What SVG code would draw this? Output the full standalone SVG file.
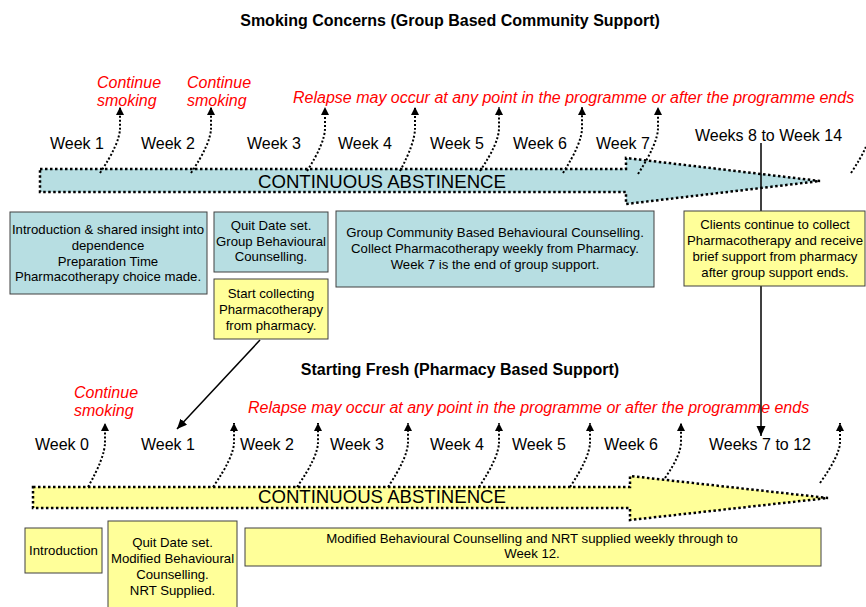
<svg xmlns="http://www.w3.org/2000/svg" width="866" height="607" viewBox="0 0 866 607">
<style>
text{font-family:"Liberation Sans",Arial,sans-serif;fill:#000}
.title{font-size:16px;font-weight:bold;text-anchor:middle}
.wk{font-size:16px}
.red{font-size:16px;font-style:italic;fill:#ff0000}
.ca{font-size:18.6px}
.bx{font-size:13.2px;text-anchor:middle}
.blue{fill:#b7dee2;stroke:#404040;stroke-width:1}
.yel{fill:#ffff99;stroke:#404040;stroke-width:1}
.big{stroke:#000;stroke-width:2.5;stroke-dasharray:2.5 2.5}
.dot{fill:none;stroke:#000;stroke-width:2;stroke-dasharray:2 2;marker-end:url(#ah)}
.solid{fill:none;stroke:#000;stroke-width:1.5}
</style>
<defs>
<marker id="ah" markerUnits="userSpaceOnUse" markerWidth="9" markerHeight="9" refX="8" refY="4" orient="auto"><path d="M0,0 L8,4 L0,8 z" fill="#000"/></marker>
<marker id="ah2" markerUnits="userSpaceOnUse" markerWidth="11" markerHeight="10" refX="10" refY="4.5" orient="auto"><path d="M0,0 L10,4.5 L0,9 z" fill="#000"/></marker>
</defs>
<rect width="866" height="607" fill="#fff"/>

<g id="titles">
<text class="title" x="450" y="26">Smoking Concerns (Group Based Community Support)</text>
<text class="title" x="460" y="375">Starting Fresh (Pharmacy Based Support)</text>
</g>

<g id="arrow-top">
<polygon class="big" fill="#b7dee2" points="40,169 626,169 626,158 820,181 626,204 626,192 40,192"/>
<text class="ca" x="258" y="188">CONTINUOUS ABSTINENCE</text>
</g>
<g id="arrow-bottom">
<polygon class="big" fill="#ffff99" points="33,487 630,487 630,476 828,498 630,520 630,508 33,508"/>
<text class="ca" x="258" y="503">CONTINUOUS ABSTINENCE</text>
</g>

<g id="labels-top">
<text class="red" x="97" y="88">Continue</text>
<text class="red" x="97" y="106">smoking</text>
<text class="red" x="187" y="88">Continue</text>
<text class="red" x="187" y="106">smoking</text>
<text class="red" x="293" y="103">Relapse may occur at any point in the programme or after the programme ends</text>
<text class="wk" x="50" y="149">Week 1</text>
<text class="wk" x="141" y="149">Week 2</text>
<text class="wk" x="247" y="149">Week 3</text>
<text class="wk" x="338" y="149">Week 4</text>
<text class="wk" x="430" y="149">Week 5</text>
<text class="wk" x="513" y="149">Week 6</text>
<text class="wk" x="596" y="149">Week 7</text>
<text class="wk" x="695" y="141">Weeks 8 to Week 14</text>
</g>

<g id="labels-bottom">
<text class="red" x="74" y="398">Continue</text>
<text class="red" x="74" y="416">smoking</text>
<text class="red" x="248" y="413">Relapse may occur at any point in the programme or after the programme ends</text>
<text class="wk" x="35" y="450">Week 0</text>
<text class="wk" x="141" y="450">Week 1</text>
<text class="wk" x="240" y="450">Week 2</text>
<text class="wk" x="330" y="450">Week 3</text>
<text class="wk" x="430" y="450">Week 4</text>
<text class="wk" x="512" y="450">Week 5</text>
<text class="wk" x="604" y="450">Week 6</text>
<text class="wk" x="709" y="450">Weeks 7 to 12</text>
</g>

<g id="connectors">
<path class="dot" d="M100,173 Q120,143 120,128 L120,107"/>
<path class="dot" d="M191,173 Q211,143 211,128 L211,107"/>
<path class="dot" d="M307,171 Q325,143 325,128 L325,107"/>
<path class="dot" d="M400,171 Q415,143 415,128 L415,107"/>
<path class="dot" d="M480,171 Q499,143 499,128 L499,107"/>
<path class="dot" d="M563,173 Q582,143 582,128 L582,107"/>
<path class="dot" d="M638,174 Q658,143 658,128 L658,107"/>
<path class="dot" d="M851,173 Q871,143 871,128 L871,107"/>

<path class="dot" d="M88,487 Q105,457 105,442 L105,423"/>
<path class="dot" d="M213,487 Q234,457 234,442 L234,423"/>
<path class="dot" d="M297,487 Q318,457 318,442 L318,423"/>
<path class="dot" d="M388,487 Q408,457 408,442 L408,423"/>
<path class="dot" d="M479,487 Q499,457 499,442 L499,423"/>
<path class="dot" d="M570,487 Q590,457 590,442 L590,423"/>
<path class="dot" d="M665,478 Q681,455 681,442 L681,423"/>
<path class="dot" d="M820,483 Q840,455 840,442 L840,423"/>

<line class="solid" x1="761" y1="143" x2="761" y2="436" marker-end="url(#ah2)"/>
<line class="solid" x1="260" y1="340" x2="177" y2="429" marker-end="url(#ah2)"/>
</g>

<g id="box-intro-top">
<rect class="blue" x="10" y="212" width="197" height="82"/>
<text class="bx" x="108" y="234">Introduction &amp; shared insight into</text>
<text class="bx" x="108" y="250">dependence</text>
<text class="bx" x="108" y="265.5">Preparation Time</text>
<text class="bx" x="108" y="281">Pharmacotherapy choice made.</text>
</g>
<g id="box-quit-top">
<rect class="blue" x="214" y="212" width="114" height="60"/>
<text class="bx" x="271" y="230">Quit Date set.</text>
<text class="bx" x="271" y="245.5">Group Behavioural</text>
<text class="bx" x="271" y="261">Counselling.</text>
</g>
<g id="box-start-collecting">
<rect class="yel" x="214" y="279" width="114" height="60"/>
<text class="bx" x="271" y="298">Start collecting</text>
<text class="bx" x="271" y="314">Pharmacotherapy</text>
<text class="bx" x="271" y="330">from pharmacy.</text>
</g>
<g id="box-group-community">
<rect class="blue" x="336" y="211" width="318" height="76"/>
<text class="bx" x="495" y="237">Group Community Based Behavioural Counselling.</text>
<text class="bx" x="495" y="253">Collect Pharmacotherapy weekly from Pharmacy.</text>
<text class="bx" x="495" y="269">Week 7 is the end of group support.</text>
</g>
<g id="box-clients">
<rect class="yel" x="684" y="211" width="181" height="75"/>
<text class="bx" x="775" y="229">Clients continue to collect</text>
<text class="bx" x="775" y="245">Pharmacotherapy and receive</text>
<text class="bx" x="775" y="261">brief support from pharmacy</text>
<text class="bx" x="775" y="277">after group support ends.</text>
</g>

<g id="box-intro-bottom">
<rect class="yel" x="25" y="528" width="77" height="45"/>
<text class="bx" x="63.5" y="555">Introduction</text>
</g>
<g id="box-quit-bottom">
<rect class="yel" x="108" y="521" width="129" height="92"/>
<text class="bx" x="172.5" y="547">Quit Date set.</text>
<text class="bx" x="172.5" y="563">Modified Behavioural</text>
<text class="bx" x="172.5" y="579">Counselling.</text>
<text class="bx" x="172.5" y="595">NRT Supplied.</text>
</g>
<g id="box-modified">
<rect class="yel" x="245" y="528" width="576" height="38"/>
<text class="bx" x="532" y="543">Modified Behavioural Counselling and NRT supplied weekly through to</text>
<text class="bx" x="532" y="558">Week 12.</text>
</g>
</svg>
